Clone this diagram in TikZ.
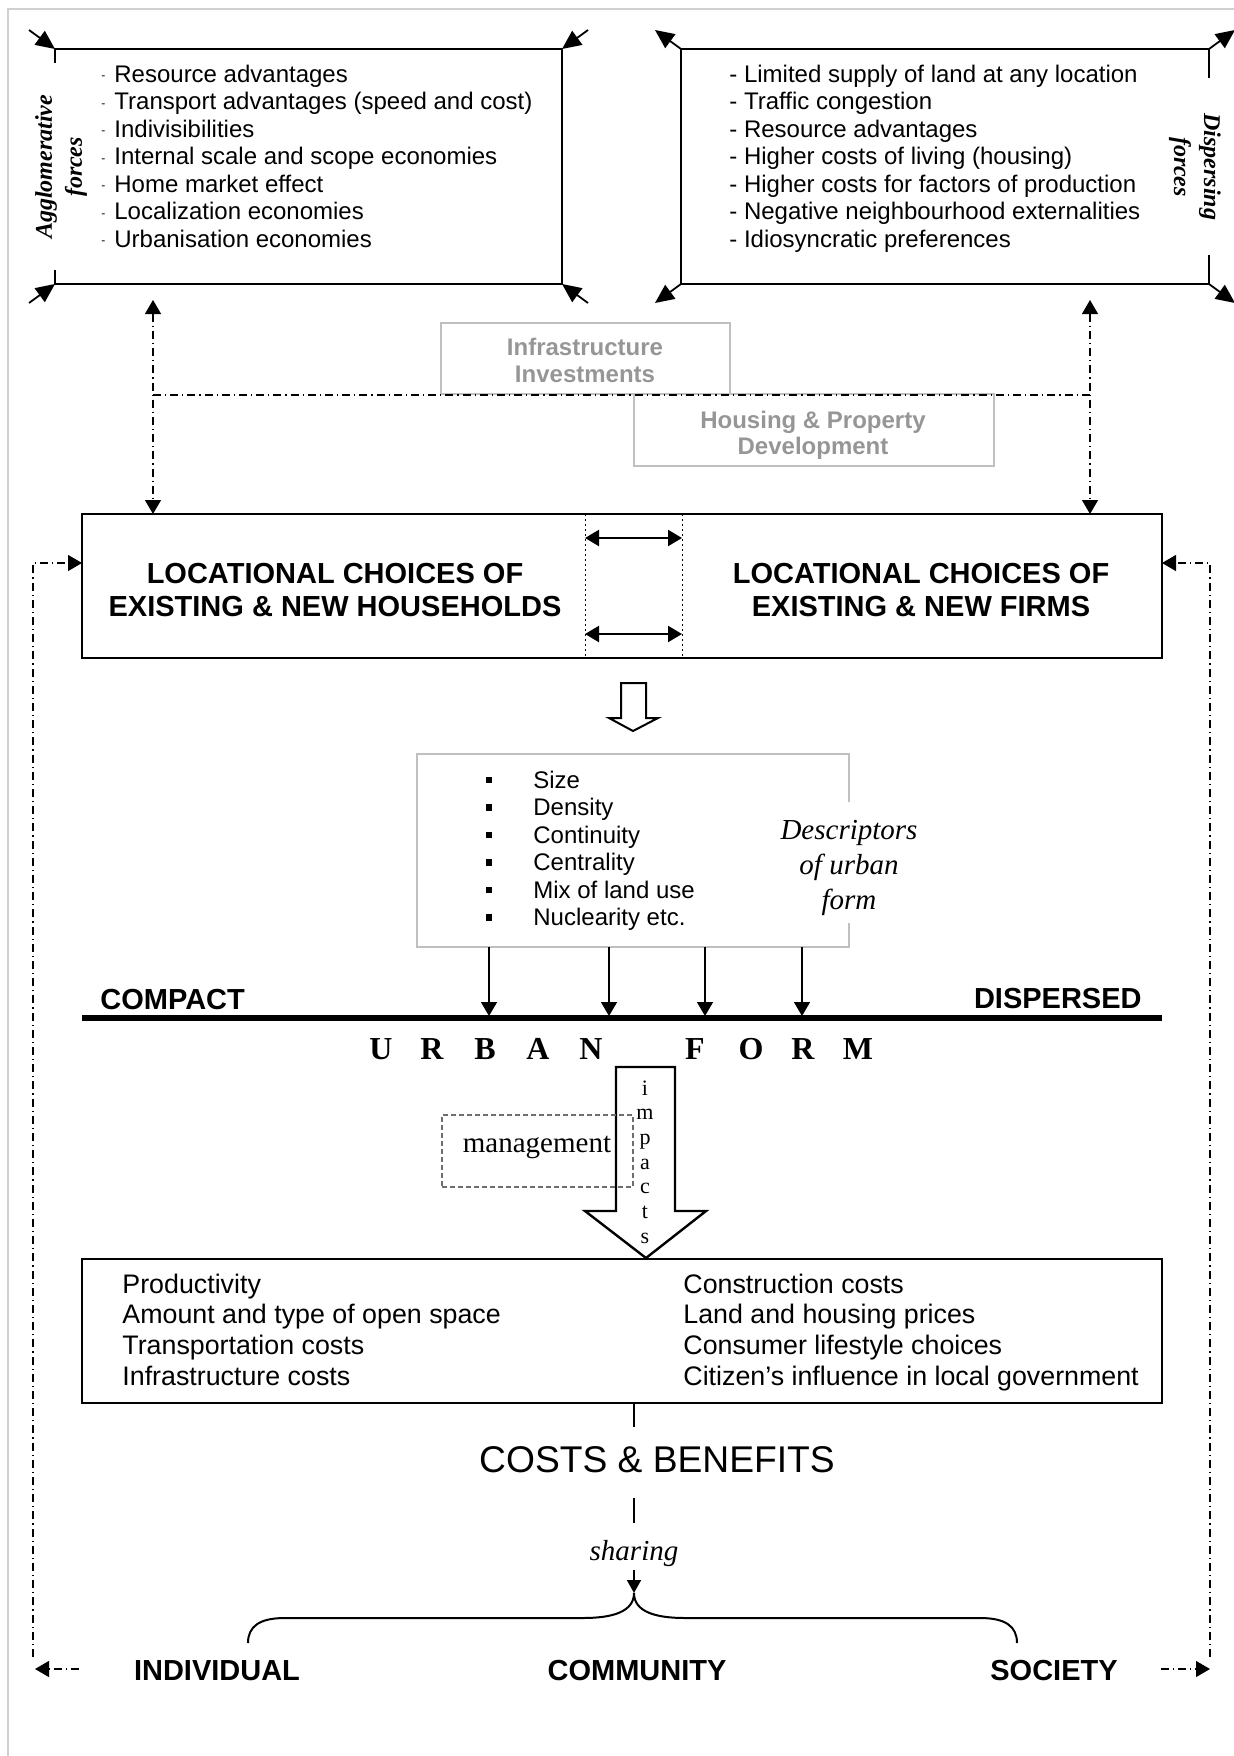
\documentclass[tikz,border=0pt]{standalone}
\usepackage{fontspec}
\setmainfont{Liberation Serif}
\setsansfont{Liberation Sans}
\usetikzlibrary{arrows.meta,calc}
\definecolor{lightbox}{RGB}{192,192,192}
\definecolor{graytext}{RGB}{150,150,150}
\definecolor{pageline}{RGB}{208,208,208}
\definecolor{mgmtline}{RGB}{110,110,110}
\newcommand{\fsz}[2]{\fontsize{#1}{#2}\selectfont}
\tikzset{
  tri/.tip={Triangle[length=7pt,width=8pt]},
  bigtri/.tip={Triangle[length=9.5pt,width=8.5pt]},
  boxnode/.style={inner sep=0pt,outer sep=0pt},
  lbl/.style={inner sep=0pt,anchor=base west,font=\sffamily\fsz{12}{14}},
  efflbl/.style={inner sep=0pt,anchor=base west,font=\sffamily\fsz{13.4}{15}},
  caps/.style={inner sep=0pt,anchor=base,font=\sffamily\bfseries\fsz{14.5}{16.5}},
  graylbl/.style={inner sep=0pt,anchor=base,text=graytext,font=\sffamily\bfseries\fsz{12}{14}},
  ital/.style={inner sep=0pt,anchor=base,font=\itshape\fsz{14.5}{17.5}},
  urb/.style={inner sep=0pt,anchor=base,font=\bfseries\fsz{16}{18}},
  dashdot/.style={line width=0.6pt,dash pattern=on 4pt off 2pt on 0.6pt off 2pt},
  corner/.style={line width=0.9pt,-bigtri},
  arr/.style={line width=0.8pt,-tri},
}
\begin{document}
\begin{tikzpicture}[x=0.5pt,y=-0.5pt]
\useasboundingbox (0,0) rectangle (1234,1756);
% page frame lines
\draw[pageline,line width=1pt] (8,1756) -- (8,9) -- (1234,9);

% ---------- top-left box: agglomerative forces
\node[boxnode,minimum width=253.5pt,minimum height=117.5pt] (agg) at (308.5,166.5) {};
\draw[line width=1pt] ($(agg.north west)+(0,14)$) |- (agg.north east) |- (agg.south west) -- ++(0,-14);
\foreach \a/\dx/\dy in {north west/-26/-19,north east/26/-19,south west/-26/19,south east/26/19}
  \draw[corner] ($(agg.\a)+(\dx,\dy)$) -- (agg.\a);
\node[inner sep=0pt,rotate=90,align=center,font=\bfseries\itshape\fsz{12}{15}] (aggt) at (61,167) {Agglomerative\\forces};
\foreach \t [count=\i from 0] in {Resource advantages,Transport advantages (speed and cost),Indivisibilities,Internal scale and scope economies,Home market effect,Localization economies,Urbanisation economies}
  \node[lbl] (ag\i) at (101,{82+27.5*\i}) {{\fsz{6}{6}\raisebox{1.2pt}{-}}\hspace{4.5pt}\t};

% ---------- top-right box: dispersing forces
\node[boxnode,minimum width=264pt,minimum height=117.5pt] (disp) at (945,166.5) {};
\draw[line width=1pt] ($(disp.north east)+(0,29)$) |- (disp.north west) |- (disp.south east) -- ++(0,-29);
\foreach \a/\dx/\dy in {north west/-26/-19,north east/26/-19,south west/-26/19,south east/26/19}
  \draw[corner] (disp.\a) -- ($(disp.\a)+(\dx,\dy)$);
\node[inner sep=0pt,rotate=-90,align=center,font=\bfseries\itshape\fsz{12}{15}] (dispt) at (1195,167) {Dispersing\\forces};
\foreach \t [count=\i from 0] in {Limited supply of land at any location,Traffic congestion,Resource advantages,Higher costs of living (housing),Higher costs for factors of production,Negative neighbourhood externalities,Idiosyncratic preferences}
  \node[lbl] (di\i) at (729,{82+27.5*\i}) {- \t};

% ---------- infrastructure / housing boxes
\node[boxnode,draw=lightbox,line width=1pt,minimum width=144.5pt,minimum height=35.5pt] (infra) at (585.5,358.5) {};
\node[graylbl] (infra1) at (585,355) {Infrastructure};
\node[graylbl] (infra2) at (585,382) {Investments};
\node[boxnode,draw=lightbox,line width=1pt,minimum width=180pt,minimum height=36pt] (hous) at (814,430) {};
\node[graylbl] (hous1) at (813,428) {Housing \& Property};
\node[graylbl] (hous2) at (813,454) {Development};

% ---------- locational choices box
\node[boxnode,draw,line width=1.3pt,minimum width=540pt,minimum height=72pt] (loc) at (622,586) {};
\node[caps] (lh1) at (335,583) {LOCATIONAL CHOICES OF};
\node[caps] (lh2) at (335,616) {EXISTING \& NEW HOUSEHOLDS};
\node[caps] (lf1) at (921,583) {LOCATIONAL CHOICES OF};
\node[caps] (lf2) at (921,616) {EXISTING \& NEW FIRMS};
\coordinate (dl) at (585,586);
\coordinate (dr) at (682,586);
\draw[line width=0.5pt,dash pattern=on 1pt off 1.5pt] (loc.north -| dl) -- (loc.south -| dl);
\draw[line width=0.5pt,dash pattern=on 1pt off 1.5pt] (loc.north -| dr) -- (loc.south -| dr);
\coordinate (da1) at (585,538); \coordinate (da2) at (682,538);
\coordinate (db1) at (585,634); \coordinate (db2) at (682,634);
\draw[line width=1.1pt,tri-tri] (da1) -- (da2);
\draw[line width=1.1pt,tri-tri] (db1) -- (db2);

% ---------- dash-dot links from forces to locational box
\coordinate (va1) at (153,300);
\coordinate (va2) at (1090,300);
\coordinate (hz) at (153,395);
\draw[dashdot,tri-tri] (va1) -- (loc.north -| va1);
\draw[dashdot,tri-tri] (va2) -- (loc.north -| va2);
\draw[dashdot] (hz) -- (hz -| va2);

% ---------- feedback loops
\coordinate (fv1) at (33,1657); \coordinate (fv2) at (33,563);
\coordinate (fr1) at (1210,1657); \coordinate (fr2) at (1210,563);
\draw[dashdot,-tri] (fv1) |- (loc.west |- fv2);
\draw[dashdot,-tri] (fr1) |- (loc.east |- fr2);

% ---------- open arrow
\draw[line width=1pt,line join=miter] (621,683) -- (646,683) -- (646,718) -- (658,718) -- (633,731) -- (609,718) -- (621,718) -- cycle;

% ---------- descriptors box
\node[boxnode,minimum width=216pt,minimum height=96.5pt] (desc) at (633,850.5) {};
\draw[lightbox,line width=0.8pt] ($(desc.north east)+(0,48)$) |- (desc.north west) |- (desc.south east) -- ++(0,-24);
\foreach \t [count=\i from 0] in {Size,Density,Continuity,Centrality,Mix of land use,Nuclearity etc.}{
  \node[lbl] (de\i) at (533,{788+27.5*\i}) {\t};
  \node[fill,inner sep=0pt,minimum size=3.4pt] (sq\i) at (489,{780+27.5*\i}) {};
}
\node[ital] (dt1) at (849,839) {Descriptors};
\node[ital] (dt2) at (849,874) {of urban};
\node[ital] (dt3) at (849,909) {form};

% ---------- urban form line
\coordinate (cl) at (82,1018);
\coordinate (cr) at (1162,1018);
\draw[line width=2.6pt] (cl) -- (cr);
\node[caps,anchor=base west] (compact) at (100,1009) {COMPACT};
\node[caps,anchor=base east] (dispersed) at (1142,1008) {DISPERSED};
\foreach \x [count=\i] in {489,609,705,802}{
  \coordinate (a\i) at (\x,1016);
  \draw[arr] (desc.south -| a\i) -- (a\i);
}
\foreach \l/\x [count=\i] in {U/381,R/432,B/485,A/538,N/591,F/695,O/751,R/803,M/858}
  \node[urb] (u\i) at (\x,1059) {\l};

% ---------- impacts arrow and management
\draw[line width=1.2pt,fill=white,line join=miter] (616,1067) -- (675,1067) -- (675,1211) -- (706,1211) -- (646,1258) -- (585,1211) -- (616,1211) -- cycle;
\node[inner sep=0pt,align=center,font=\fsz{11}{12.35}] (imp) at (645,1162) {i\\m\\p\\a\\c\\t\\s};
\node[boxnode,draw=mgmtline,line width=0.7pt,dash pattern=on 2.5pt off 1.5pt,minimum width=95.5pt,minimum height=36pt] (mgmt) at (537.5,1151) {};
\node[inner sep=0pt,anchor=base,font=\fsz{14.5}{17}] (mgmtt) at (537,1152) {management};

% ---------- effects box
\node[boxnode,draw,line width=1.2pt,minimum width=540pt,minimum height=72pt] (eff) at (622,1331) {};
\foreach \t [count=\i from 0] in {Productivity,Amount and type of open space,Transportation costs,Infrastructure costs}
  \node[efflbl] (el\i) at (122,{1293+30.7*\i}) {\t};
\foreach \t [count=\i from 0] in {Construction costs,Land and housing prices,Consumer lifestyle choices,Citizen’s influence in local government}
  \node[efflbl] (er\i) at (683,{1293+30.7*\i}) {\t};

% ---------- costs and benefits, sharing
\coordinate (c1) at (634,1427);
\draw[line width=0.8pt] (eff.south -| c1) -- (c1);
\node[inner sep=0pt,anchor=base,font=\sffamily\fsz{18.6}{21}] (cb) at (657,1472) {COSTS \& BENEFITS};
\coordinate (c2) at (634,1498); \coordinate (c3) at (634,1523);
\draw[line width=0.8pt] (c2) -- (c3);
\node[ital] (shr) at (634,1560) {sharing};
\coordinate (c4) at (634,1570); \coordinate (brc) at (634,1593);
\draw[line width=0.8pt,-{Triangle[length=6.5pt,width=7pt]}] (c4) -- (brc);
\draw[line width=1pt] (248,1643) .. controls (248,1626) and (260,1618) .. (285,1618) -- (583,1618) .. controls (612,1618) and (634,1612) .. (brc) .. controls (634,1612) and (656,1618) .. (685,1618) -- (980,1618) .. controls (1005,1618) and (1017,1626) .. (1017,1643);

% ---------- sharing parties
\node[caps] (indiv) at (217,1680) {INDIVIDUAL};
\node[caps] (comm) at (637,1680) {COMMUNITY};
\node[caps] (soc) at (1054,1680) {SOCIETY};
\coordinate (fb1) at (79,1669); \coordinate (fb2) at (35,1669);
\coordinate (fb3) at (1161,1669); \coordinate (fb4) at (1210,1669);
\draw[dashdot,-tri] (fb1) -- (fb2);
\draw[dashdot,-tri] (fb3) -- (fb4);
\end{tikzpicture}
\end{document}
